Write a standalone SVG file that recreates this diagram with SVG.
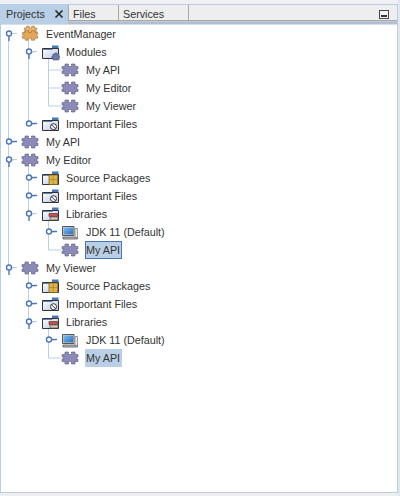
<svg xmlns="http://www.w3.org/2000/svg" xmlns:xlink="http://www.w3.org/1999/xlink" width="400" height="496" viewBox="0 0 400 496">
<style>
text{font-family:"Liberation Sans",Arial,sans-serif;font-size:10.75px;fill:#333}
.tree{fill:none;stroke:#b8cfe5;stroke-width:1}
.h{fill:#fff;stroke:#4a76b8;stroke-width:1.4}
.hl{fill:none;stroke:#4a76b8;stroke-width:1.4}
</style>
<defs>
<linearGradient id="fg" x1="0" y1="0" x2="1" y2="1"><stop offset="0" stop-color="#fff"/><stop offset="1" stop-color="#b4c6e4"/></linearGradient>
<linearGradient id="sc" x1="0" y1="0" x2="1" y2="1"><stop offset="0" stop-color="#7cc0ee"/><stop offset="1" stop-color="#2c6cc0"/></linearGradient>
<path id="pz" d="M-8-3.500h2.500v-.5h.5v-2h3.500v2.500h3v-2.500h3.500v2h.5v.5h2.500v2.500h-1.500v2h1.500v2.500h-2.500v.5h-.5v2h-3.500v-2.500h-3v2.500h-3.500v-2h-.5v-.5h-2.500v-2.500h1.500v-2h-1.500z"/>
<g id="piece"><use xlink:href="#pz" x="1" fill="#8b89b6" stroke="#5f5d8c" stroke-width=".6"/></g>
<g id="proj">
<use xlink:href="#pz" transform="translate(0.500 -2.500) scale(.78 .72)" fill="#eab46c" stroke="#9a7440" stroke-width=".8"/>
<use xlink:href="#pz" y="3" transform="scale(.95 .8)" fill="#e6a858" stroke="#9a7440" stroke-width=".7"/>
</g>
<g id="folder">
<path d="M2-6.500h6.500v3h-6.500z" fill="#4a76b8"/>
<path d="M-7.500-3.500h16v10h-16z" fill="url(#fg)" stroke="#333" stroke-width="1"/>
<path d="M-7-3h10l-1 1h-9z" fill="#5f83bf"/>
</g>
<g id="fmod"><use xlink:href="#folder"/><path d="M3 2h2v-1h2v1h2v2h.5v2h-.5v2h-6v-2h-1v-2h1z" fill="#6d7ba6" stroke="#4c5a85" stroke-width=".6"/></g>
<g id="fimp"><use xlink:href="#folder"/><circle cx="3.500" cy="2.700" r="3" fill="#fff" stroke="#333" stroke-width="1"/><path d="M1.500 .7l4 4" stroke="#333" stroke-width="1"/></g>
<g id="fsrc"><use xlink:href="#folder"/><path d="M-1-3h8.500v9.500h-8.500z" fill="#e0b448" stroke="#7c5a18" stroke-width=".7"/><path d="M3.200-3v9.500M-1 1.500h8.500" stroke="#a07c28" stroke-width=".6"/></g>
<g id="flib"><use xlink:href="#folder"/><path d="M-1-.5h8.500v3h-8.500z" fill="#c8504c" stroke="#6a3030" stroke-width=".7"/><path d="M0 3h8v3h-8z" fill="#d8c8b8" stroke="#555" stroke-width=".7"/></g>
<g id="jdk">
<path d="M-5.500-5.500h11.500v9h-11.500z" fill="#d6dade" stroke="#555" stroke-width="1"/>
<path d="M-4.500-4.500h9.500v7h-9.500z" fill="url(#sc)"/>
<path d="M-5 5h14.500v2h-14.500z" fill="#b8bcc0" stroke="#555" stroke-width=".8"/>
<path d="M7-3.500h2.500v9h-2.500z" fill="#e8e8e8" stroke="#777" stroke-width=".7"/>
</g>
<g id="open"><path class="tree" d="M3 0h5"/><path class="hl" d="M0 2.500v5"/><circle class="h" r="2.500"/></g>
<g id="closed"><path class="hl" d="M2 0h6"/><circle class="h" r="2.500"/></g>
</defs>

<rect width="400" height="496" fill="#eeeeee"/>
<rect x="0" y="0" width="400" height="4" fill="#f0f0f4"/>
<rect x="398" y="0" width="2" height="496" fill="#e4e6ee"/>
<rect x="0.500" y="4.500" width="397" height="488" fill="#fff" stroke="#b8cfe5" stroke-width="1"/>
<rect x="1" y="5" width="396" height="15" fill="#eeeeee"/>
<rect x="1" y="20" width="396" height="1.500" fill="#a8a8a8"/>
<rect x="1" y="21.500" width="396" height="3" fill="#b0bfd4"/>
<rect x="1" y="5" width="67" height="19" fill="#b8cfe5"/>
<path d="M68.500 5v16M118.500 5v16M188.500 5v16" stroke="#a8a8a8" fill="none"/>
<text x="6" y="18">Projects</text>
<path d="M55.500 10.500l7 7M62.500 10.500l-7 7" stroke="#222" stroke-width="1.500" fill="none"/>
<text x="73" y="18">Files</text>
<text x="123" y="18">Services</text>
<rect x="379.500" y="10.500" width="9" height="8" fill="#f4f4f4" stroke="#445" stroke-width="1"/>
<rect x="381" y="15" width="6" height="2" fill="#333"/>

<g id="connectors" class="tree">
<path d="M8.500 34V268"/>
<path d="M28.500 40V124M28.500 166V214M28.500 274V322"/>
<path d="M8.500 142h6M8.500 160h6M8.500 268h6M28.500 52h6M28.500 124h6M28.500 178h6M28.500 196h6M28.500 214h6M28.500 286h6M28.500 304h6M28.500 322h6"/>
<path d="M48.500 58V106M48.500 70h13M48.500 88h13M48.500 106h13"/>
<path d="M48.500 220V250H61M48.500 232h6"/>
<path d="M48.500 328V358H61M48.500 340h6"/>
</g>

<g id="n-eventmanager"><use xlink:href="#open" x="9" y="33.500"/><use xlink:href="#proj" x="30" y="33"/><text x="46" y="38">EventManager</text></g>
<g id="n-modules"><use xlink:href="#open" x="29" y="51.500"/><use xlink:href="#fmod" x="50" y="52"/><text x="66" y="56">Modules</text></g>
<g id="n-mod-api"><use xlink:href="#piece" x="69" y="70"/><text x="86" y="74">My API</text></g>
<g id="n-mod-editor"><use xlink:href="#piece" x="69" y="88"/><text x="86" y="92">My Editor</text></g>
<g id="n-mod-viewer"><use xlink:href="#piece" x="69" y="106"/><text x="86" y="110">My Viewer</text></g>
<g id="n-imp"><use xlink:href="#closed" x="29" y="123.500"/><use xlink:href="#fimp" x="50" y="124"/><text x="66" y="128">Important Files</text></g>
<g id="n-api"><use xlink:href="#closed" x="9" y="141.500"/><use xlink:href="#piece" x="29" y="142"/><text x="46" y="146">My API</text></g>
<g id="n-editor"><use xlink:href="#open" x="9" y="159.500"/><use xlink:href="#piece" x="29" y="160"/><text x="46" y="164">My Editor</text></g>
<g id="n-ed-src"><use xlink:href="#closed" x="29" y="177.500"/><use xlink:href="#fsrc" x="50" y="178"/><text x="66" y="182">Source Packages</text></g>
<g id="n-ed-imp"><use xlink:href="#closed" x="29" y="195.500"/><use xlink:href="#fimp" x="50" y="196"/><text x="66" y="200">Important Files</text></g>
<g id="n-ed-lib"><use xlink:href="#open" x="29" y="213.500"/><use xlink:href="#flib" x="50" y="214"/><text x="66" y="218">Libraries</text></g>
<g id="n-ed-jdk"><use xlink:href="#closed" x="49" y="231.500"/><use xlink:href="#jdk" x="68" y="232"/><text x="86" y="236">JDK 11 (Default)</text></g>
<g id="n-ed-api"><rect x="85.500" y="241.500" width="36" height="17" fill="#b8cfe5" stroke="#4a76b8"/><use xlink:href="#piece" x="69" y="250"/><text x="86" y="254">My API</text></g>
<g id="n-viewer"><use xlink:href="#open" x="9" y="267.500"/><use xlink:href="#piece" x="29" y="268"/><text x="46" y="272">My Viewer</text></g>
<g id="n-vw-src"><use xlink:href="#closed" x="29" y="285.500"/><use xlink:href="#fsrc" x="50" y="286"/><text x="66" y="290">Source Packages</text></g>
<g id="n-vw-imp"><use xlink:href="#closed" x="29" y="303.500"/><use xlink:href="#fimp" x="50" y="304"/><text x="66" y="308">Important Files</text></g>
<g id="n-vw-lib"><use xlink:href="#open" x="29" y="321.500"/><use xlink:href="#flib" x="50" y="322"/><text x="66" y="326">Libraries</text></g>
<g id="n-vw-jdk"><use xlink:href="#closed" x="49" y="339.500"/><use xlink:href="#jdk" x="68" y="340"/><text x="86" y="344">JDK 11 (Default)</text></g>
<g id="n-vw-api"><rect x="85" y="349" width="37" height="18" fill="#b8cfe5"/><use xlink:href="#piece" x="69" y="358"/><text x="86" y="362">My API</text></g>
</svg>
